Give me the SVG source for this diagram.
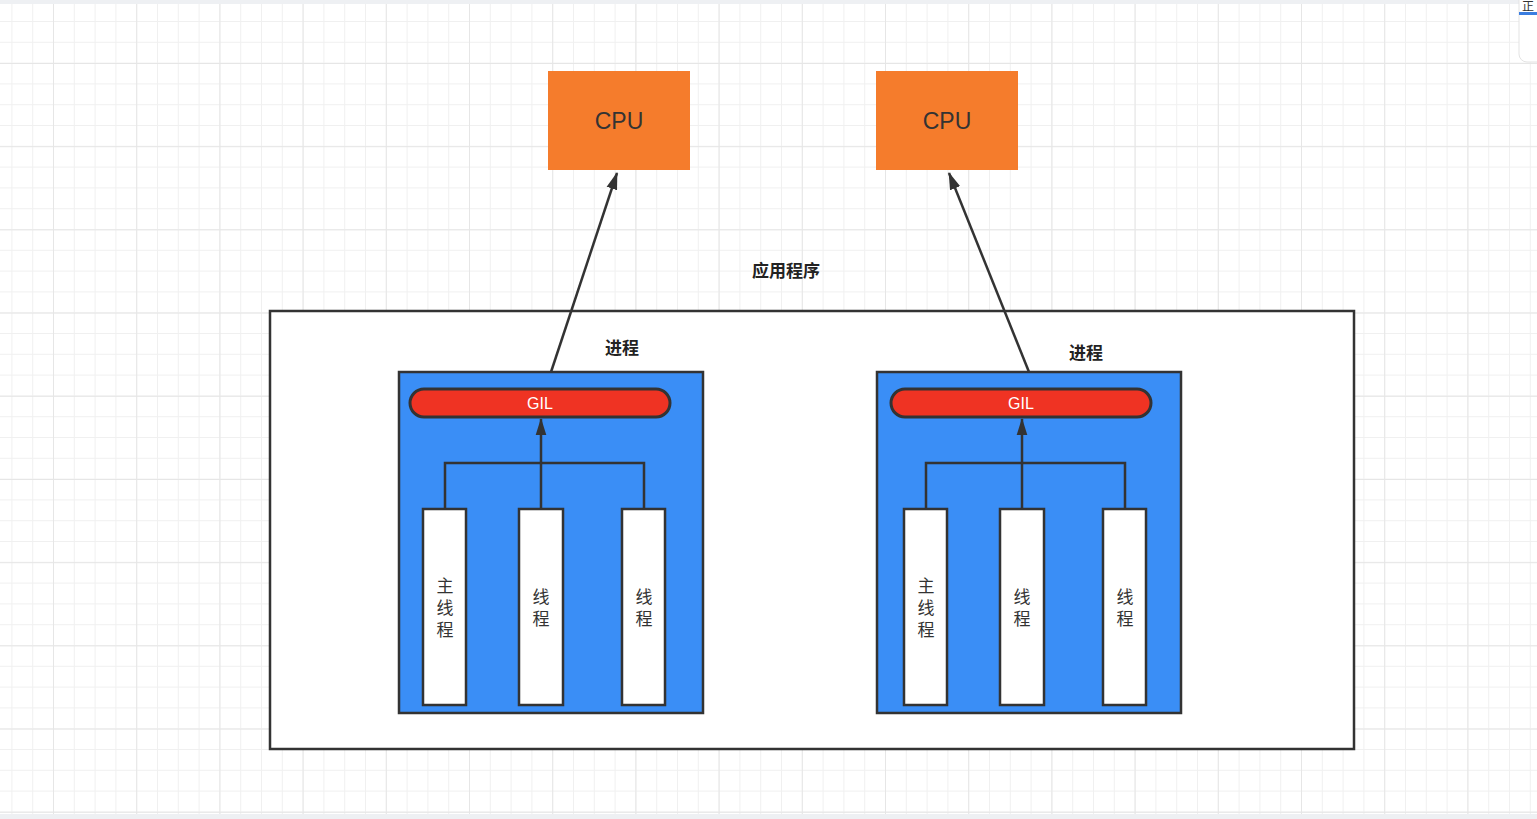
<svg xmlns="http://www.w3.org/2000/svg" width="1537" height="819" viewBox="0 0 1537 819">
<style>
.cpu{fill:#F57C2C}
.cpuT{font-family:"Liberation Sans",Arial,sans-serif;font-size:23px;fill:#333;text-anchor:middle}
.lbl{font-family:"Noto Sans CJK SC","Noto Sans",sans-serif;font-size:17px;font-weight:bold;fill:#222;text-anchor:middle}
.proc{fill:#3A8EF6;stroke:#333;stroke-width:2.5}
.gil{fill:#EF3323;stroke:#333;stroke-width:3}
.gilT{font-family:"Liberation Sans",Arial,sans-serif;font-size:16px;fill:#fff;text-anchor:middle}
.thr{fill:#fff;stroke:#333;stroke-width:2.5}
.thrT{font-family:"Noto Sans CJK SC","Noto Sans",sans-serif;font-size:17px;fill:#333;text-anchor:middle}
.ln{fill:none;stroke:#333;stroke-width:2.5}
</style>
<defs>
<pattern id="minor" patternUnits="userSpaceOnUse" width="20.8" height="20.8" x="-30.2" y="0.2">
<path d="M0 0H20.8M0 0V20.8" stroke="#f0f0f0" stroke-width="2" fill="none"/>
</pattern>
<pattern id="major" patternUnits="userSpaceOnUse" width="83.2" height="83.2" x="-30.2" y="-20.2">
<path d="M0 0H83.2M0 0V83.2" stroke="#e6e6e6" stroke-width="2" fill="none"/>
</pattern>
<marker id="arr" viewBox="0 0 16 10" refX="15" refY="5" markerWidth="7" markerHeight="4.6" orient="auto" markerUnits="strokeWidth">
<path d="M0 0L16 5L0 10z" fill="#333"/>
</marker>
</defs>
<rect width="1537" height="819" fill="#fff"/>
<rect width="1537" height="819" fill="url(#minor)"/>
<rect width="1537" height="819" fill="url(#major)"/>
<rect width="1537" height="4" fill="#eef0f3"/>
<rect y="814" width="1537" height="5" fill="#eef0f3"/>
<g id="widget">
<rect x="1519" y="-10" width="30" height="72" rx="8" fill="#fff" stroke="#e3e3e3"/>
<rect x="1519" y="12" width="18" height="3" fill="#3a7de0"/>
<text x="1528" y="11" font-family="Noto Sans CJK SC,sans-serif" font-size="12" fill="#333" text-anchor="middle">正</text>
</g>
<g id="app">
<rect x="270" y="311" width="1084" height="438" fill="#fff" stroke="#333" stroke-width="2.5"/>
<text class="lbl" x="786" y="277">应用程序</text>
</g>
<g id="cpu1"><rect class="cpu" x="548" y="71" width="142" height="99"/><text class="cpuT" x="619" y="129">CPU</text></g>
<g id="cpu2"><rect class="cpu" x="876" y="71" width="142" height="99"/><text class="cpuT" x="947" y="129">CPU</text></g>
<g id="proc1">
<text class="lbl" x="622" y="354">进程</text>
<rect class="proc" x="399" y="372" width="304" height="341"/>
<rect class="gil" x="410" y="389" width="260" height="28" rx="14"/>
<text class="gilT" x="540" y="409">GIL</text>
</g>
<g id="t1a"><rect class="thr" x="423" y="509" width="43" height="196"/><text class="thrT" x="445" y="592">主</text><text class="thrT" x="445" y="614">线</text><text class="thrT" x="445" y="636">程</text></g>
<g id="t1b"><rect class="thr" x="519" y="509" width="44" height="196"/><text class="thrT" x="541" y="603">线</text><text class="thrT" x="541" y="625">程</text></g>
<g id="t1c"><rect class="thr" x="622" y="509" width="43" height="196"/><text class="thrT" x="644" y="603">线</text><text class="thrT" x="644" y="625">程</text></g>
<g id="proc2">
<text class="lbl" x="1086" y="359">进程</text>
<rect class="proc" x="877" y="372" width="304" height="341"/>
<rect class="gil" x="891" y="389" width="260" height="28" rx="14"/>
<text class="gilT" x="1021" y="409">GIL</text>
</g>
<g id="t2a"><rect class="thr" x="904" y="509" width="43" height="196"/><text class="thrT" x="926" y="592">主</text><text class="thrT" x="926" y="614">线</text><text class="thrT" x="926" y="636">程</text></g>
<g id="t2b"><rect class="thr" x="1000" y="509" width="44" height="196"/><text class="thrT" x="1022" y="603">线</text><text class="thrT" x="1022" y="625">程</text></g>
<g id="t2c"><rect class="thr" x="1103" y="509" width="43" height="196"/><text class="thrT" x="1125" y="603">线</text><text class="thrT" x="1125" y="625">程</text></g>
<g id="connectors">
<path class="ln" d="M551 372L617 173" marker-end="url(#arr)"/>
<path class="ln" d="M1029 372L949 173" marker-end="url(#arr)"/>
<path class="ln" d="M445 509V463H644V509"/>
<path class="ln" d="M541 509V419" marker-end="url(#arr)"/>
<path class="ln" d="M926 509V463H1125V509"/>
<path class="ln" d="M1022 509V419" marker-end="url(#arr)"/>
</g>
</svg>
